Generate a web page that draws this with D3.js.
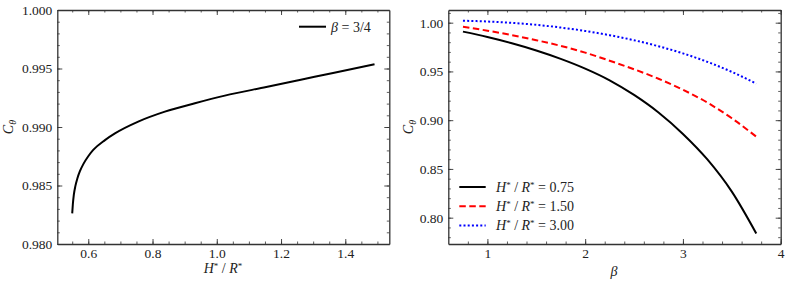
<!DOCTYPE html>
<html>
<head>
<meta charset="utf-8">
<script src="https://cdn.jsdelivr.net/npm/d3@7"></script>
<style>
  body { margin: 0; background: #fff; }
  svg { display: block; }
  text { font-family: "Liberation Serif", "Times New Roman", Times, "DejaVu Serif", serif; fill: #222; }
</style>
</head>
<body>
<div id="grafico"></div>
<script>
// Painel esquerdo: C_theta em função de H*/R* (beta = 3/4)
const razaoHR = [0.55, 0.552, 0.555, 0.56, 0.566, 0.574, 0.585, 0.60, 0.6155, 0.652, 0.683, 0.7555, 0.8385, 0.932, 1.025, 1.154, 1.258, 1.362, 1.491];
const cThetaBeta34 = [0.98262, 0.98340, 0.98420, 0.98497, 0.98560, 0.98622, 0.98685, 0.98750, 0.98804, 0.98888, 0.98945, 0.99046, 0.99131, 0.99203, 0.99268, 0.99342, 0.99402, 0.99462, 0.99536];

// Painel direito: C_theta em função de beta
const betaVals = [0.75, 1.0, 1.25, 1.5, 1.75, 2.0, 2.25, 2.5, 2.75, 3.0, 3.25, 3.5, 3.75];
const cTheta075 = [0.9908, 0.9853, 0.9789, 0.9715, 0.9629, 0.9529, 0.9409, 0.9259, 0.9079, 0.8859, 0.8597, 0.8267, 0.7838];
const cTheta150 = [0.9959, 0.9918, 0.9872, 0.9820, 0.9762, 0.9693, 0.9610, 0.9522, 0.9425, 0.9312, 0.9180, 0.9020, 0.8831];
const cTheta300 = [1.0020, 1.0012, 0.9998, 0.9978, 0.9950, 0.9915, 0.9872, 0.9820, 0.9758, 0.9685, 0.9598, 0.9495, 0.9375];

// Rótulos dos eixos
const ticksXEsq = [0.6, 0.8, 1.0, 1.2, 1.4];
const ticksYEsq = [0.980, 0.985, 0.990, 0.995, 1.000];
const ticksXDir = [1, 2, 3, 4];
const ticksYDir = [0.80, 0.85, 0.90, 0.95, 1.00];
const rotulosLegenda = ["0.75", "1.50", "3.00"];

const svg = d3.select("#grafico").append("svg")
    .attr("width", 789)
    .attr("height", 286);

// desenha moldura com ticks para dentro nos 4 lados
function desenharEixos(g, x, y, majX, minX, majY, minY, fmtX, fmtY) {
    const [x0, x1] = x.range();
    const [y0, y1] = y.range(); // y0 = baixo

    const eixos = [
        { ax: d3.axisBottom, s: x, t: `translate(0,${y0})`, maj: majX, min: minX, fmt: fmtX, pad: 4 },
        { ax: d3.axisTop, s: x, t: `translate(0,${y1})`, maj: majX, min: minX, fmt: null, pad: 0 },
        { ax: d3.axisLeft, s: y, t: `translate(${x0},0)`, maj: majY, min: minY, fmt: fmtY, pad: 5 },
        { ax: d3.axisRight, s: y, t: `translate(${x1},0)`, maj: majY, min: minY, fmt: null, pad: 0 }
    ];

    eixos.forEach(e => {
        // ticks menores
        g.append("g")
            .attr("transform", e.t)
            .call(e.ax(e.s).tickValues(e.min).tickSize(-2.5).tickFormat(""))
            .call(a => a.select(".domain").remove())
            .selectAll("line").attr("stroke", "#333").attr("stroke-width", 0.8);

        // ticks maiores
        const ga = g.append("g")
            .attr("transform", e.t)
            .call(e.ax(e.s).tickValues(e.maj).tickSizeInner(-5).tickSizeOuter(0)
                .tickPadding(e.pad)
                .tickFormat(e.fmt ? e.fmt : ""));
        ga.select(".domain").attr("stroke", "#333").attr("stroke-width", 1.3);
        ga.selectAll("line").attr("stroke", "#333").attr("stroke-width", 0.9);
        ga.selectAll("text")
            .style("font-family", '"Liberation Serif", "Times New Roman", serif')
            .style("font-size", "13.5px")
            .attr("fill", "#222");
    });
}

function rotuloCTheta(g, xPos, yPos) {
    const t = g.append("text")
        .attr("transform", `translate(${xPos},${yPos}) rotate(-90)`)
        .attr("text-anchor", "middle")
        .style("font-size", "14px");
    t.append("tspan").attr("font-style", "italic").text("C");
    t.append("tspan").attr("font-style", "italic").attr("font-size", "10px").attr("dy", 3).text("θ");
}

function textoHR(t, extra) {
    t.append("tspan").attr("font-style", "italic").text("H");
    t.append("tspan").attr("font-size", "9px").attr("dy", -4).text("*");
    t.append("tspan").attr("dy", 4).text(" / ");
    t.append("tspan").attr("font-style", "italic").text("R");
    t.append("tspan").attr("font-size", "9px").attr("dy", -4).text("*");
    if (extra) t.append("tspan").attr("dy", 4).text(extra);
}

// ---------- Painel esquerdo ----------
const gE = svg.append("g");
const xE = d3.scaleLinear().domain([0.5036, 1.537]).range([57.3, 389.3]);
const yE = d3.scaleLinear().domain([0.98, 1.0]).range([244, 10]);

desenharEixos(gE, xE, yE,
    ticksXEsq, d3.range(0.55, 1.53, 0.05),
    ticksYEsq, d3.range(0.980, 1.0005, 0.001),
    d3.format(".1f"), d3.format(".3f"));

gE.append("path")
    .datum(razaoHR.map((h, i) => [h, cThetaBeta34[i]]))
    .attr("fill", "none")
    .attr("stroke", "#000")
    .attr("stroke-width", 2)
    .attr("d", d3.line().x(d => xE(d[0])).y(d => yE(d[1])).curve(d3.curveMonotoneX));

// legenda esquerda
gE.append("line")
    .attr("x1", 299).attr("x2", 326).attr("y1", 26.7).attr("y2", 26.7)
    .attr("stroke", "#000").attr("stroke-width", 2);
const legE = gE.append("text").attr("x", 331).attr("y", 31.5).style("font-size", "14px");
legE.append("tspan").attr("font-style", "italic").text("β");
legE.append("tspan").text(" = 3/4");

// títulos
rotuloCTheta(gE, 13, 127);
textoHR(gE.append("text")
    .attr("x", 223).attr("y", 273)
    .attr("text-anchor", "middle")
    .style("font-size", "14px"));

// ---------- Painel direito ----------
const gD = svg.append("g");
const xD = d3.scaleLinear().domain([0.6, 4.0]).range([448.3, 780.7]);
const yD = d3.scaleLinear().domain([0.773, 1.013]).range([244, 10]);

desenharEixos(gD, xD, yD,
    ticksXDir, d3.range(0.8, 4.01, 0.2),
    ticksYDir, d3.range(0.78, 1.011, 0.01),
    d3.format("d"), d3.format(".2f"));

const series = [
    { v: cTheta075, cor: "#000", dash: null, w: 2 },
    { v: cTheta150, cor: "#f00", dash: "6.5,3.5", w: 2 },
    { v: cTheta300, cor: "#00f", dash: "2,2.2", w: 2 }
];

const linhaD = d3.line().x(d => xD(d[0])).y(d => yD(d[1])).curve(d3.curveMonotoneX);

series.forEach((s, i) => {
    gD.append("path")
        .datum(betaVals.map((b, j) => [b, s.v[j]]))
        .attr("fill", "none")
        .attr("stroke", s.cor)
        .attr("stroke-width", s.w)
        .attr("stroke-dasharray", s.dash)
        .attr("d", linhaD);

    // legenda
    const yl = 187 + i * 19.2;
    gD.append("line")
        .attr("x1", 459.3).attr("x2", 485.7).attr("y1", yl).attr("y2", yl)
        .attr("stroke", s.cor).attr("stroke-width", s.w)
        .attr("stroke-dasharray", s.dash);
    textoHR(gD.append("text")
        .attr("x", 496).attr("y", yl + 5)
        .style("font-size", "14px"), " = " + rotulosLegenda[i]);
});

rotuloCTheta(gD, 413, 127);
gD.append("text")
    .attr("x", 614).attr("y", 276)
    .attr("text-anchor", "middle")
    .attr("font-style", "italic")
    .style("font-size", "14px")
    .text("β");
</script>
</body>
</html>
